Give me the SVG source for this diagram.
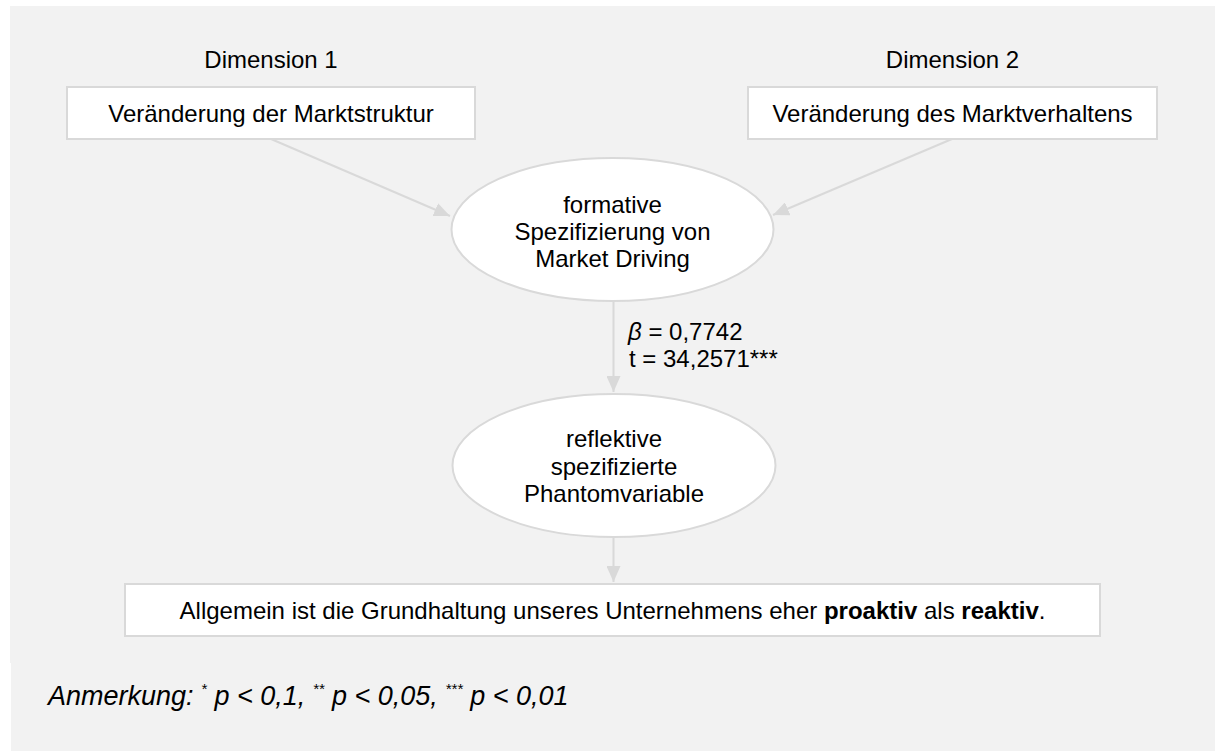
<svg xmlns="http://www.w3.org/2000/svg" width="1215" height="753" viewBox="0 0 1215 753">
  <style>
    .txt { font-family: "Liberation Sans", Arial, sans-serif; font-size: 24px; fill: #000; }
    .mid { text-anchor: middle; }
    .box { fill: #ffffff; stroke: #d9d9d9; stroke-width: 2; }
    .oval { fill: #ffffff; stroke: #d9d9d9; stroke-width: 2; }
    .edge { fill: none; stroke: #d9d9d9; stroke-width: 2; marker-end: url(#arrow); }
    .note { font-family: "Liberation Sans", Arial, sans-serif; font-size: 27px; font-style: italic; fill: #000; }
  </style>
  <defs>
    <marker id="arrow" viewBox="0 0 16 14" refX="16" refY="7" markerWidth="16" markerHeight="14" orient="auto" markerUnits="userSpaceOnUse">
      <path d="M0,0 L16,7 L0,14 z" fill="#d9d9d9"/>
    </marker>
  </defs>

  <!-- background panels -->
  <rect x="10" y="6" width="1205" height="657" fill="#f2f2f2"/>
  <rect x="11" y="663" width="1204" height="88" fill="#f2f2f2"/>

  <!-- connectors -->
  <g id="connectors">
    <line class="edge" x1="271" y1="139" x2="450" y2="216"/>
    <line class="edge" x1="952" y1="139" x2="773" y2="215"/>
    <line class="edge" x1="613.5" y1="301" x2="613.5" y2="392"/>
    <line class="edge" x1="613.5" y1="537" x2="613.5" y2="582"/>
  </g>

  <!-- dimension headings -->
  <text class="txt mid" x="271" y="68">Dimension 1</text>
  <text class="txt mid" x="952.5" y="68">Dimension 2</text>

  <g id="dim1">
    <rect class="box" x="67" y="87" width="408" height="52"/>
    <text class="txt mid" x="271" y="121.5">Veränderung der Marktstruktur</text>
  </g>

  <g id="dim2">
    <rect class="box" x="748" y="87" width="409" height="52"/>
    <text class="txt mid" x="952.5" y="121.5">Veränderung des Marktverhaltens</text>
  </g>

  <g id="formative">
    <ellipse class="oval" cx="612.5" cy="229.5" rx="161" ry="71.5"/>
    <text class="txt mid" x="612.5" y="213">formative</text>
    <text class="txt mid" x="612.5" y="240">Spezifizierung von</text>
    <text class="txt mid" x="612.5" y="267">Market Driving</text>
  </g>

  <!-- path coefficient -->
  <g id="coefficient">
    <text class="txt" x="628" y="340"><tspan font-style="italic">β</tspan> = 0,7742</text>
    <text class="txt" x="629" y="367">t = 34,2571***</text>
  </g>

  <g id="phantom">
    <ellipse class="oval" cx="614" cy="465.5" rx="161.5" ry="71.5"/>
    <text class="txt mid" x="614" y="447">reflektive</text>
    <text class="txt mid" x="614" y="475">spezifizierte</text>
    <text class="txt mid" x="614" y="502">Phantomvariable</text>
  </g>

  <g id="indicator">
    <rect class="box" x="125" y="584" width="975" height="52"/>
    <text class="txt mid" x="612.5" y="619">Allgemein ist die Grundhaltung unseres Unternehmens eher <tspan font-weight="bold">proaktiv</tspan> als <tspan font-weight="bold">reaktiv</tspan>.</text>
  </g>

  <!-- significance note -->
  <text class="note" x="48" y="705">Anmerkung: <tspan font-size="15" dy="-11">*</tspan><tspan dy="11"> p &lt; 0,1, </tspan><tspan font-size="15" dy="-11">**</tspan><tspan dy="11"> p &lt; 0,05, </tspan><tspan font-size="15" dy="-11">***</tspan><tspan dy="11"> p &lt; 0,01</tspan></text>
</svg>
